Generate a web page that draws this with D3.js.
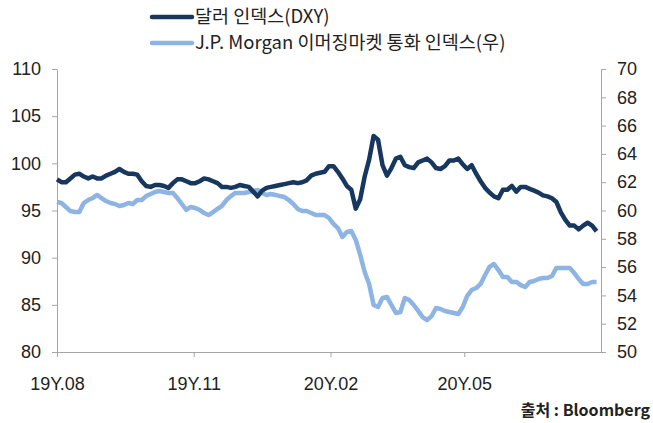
<!DOCTYPE html>
<html>
<head>
<meta charset="utf-8">
<script src="https://cdn.jsdelivr.net/npm/d3@7"></script>
<style>
  body { margin: 0; background: #fff; }
  svg { display: block; font-family: "Noto Sans CJK KR", "Noto Sans", sans-serif; }
  .axis path, .axis line { stroke: #a6a6a6; }
  .axis text { fill: #222; font-size: 18px; }
</style>
</head>
<body>
<svg id="chart" width="653" height="423"></svg>
<script>
// sampled every 3 days from 2019-08-01
var startDate = new Date(2019, 7, 1);
var dates = d3.range(122).map(function(i) { return d3.timeDay.offset(startDate, 3 * i); });

var dxy = [98.3, 98.0, 98.0, 98.4, 98.8, 98.9, 98.6, 98.4, 98.6, 98.4,
  98.4, 98.7, 98.9, 99.1, 99.4, 99.1, 98.9, 98.9, 98.8, 98.1,
  97.6, 97.5, 97.7, 97.7, 97.6, 97.4, 97.9, 98.3, 98.3, 98.1,
  97.9, 97.9, 98.1, 98.4, 98.3, 98.1, 97.9, 97.5, 97.5, 97.4,
  97.5, 97.7, 97.6, 97.5, 97.0, 96.5, 97.1, 97.4, 97.5, 97.6,
  97.7, 97.8, 97.9, 98.0, 97.9, 98.0, 98.2, 98.7, 98.9, 99.0,
  99.1, 99.7, 99.7, 99.1, 98.4, 97.6, 97.2, 95.2, 96.2, 98.6,
  100.4, 102.9, 102.5, 99.8, 98.7, 99.5, 100.5, 100.7, 99.8, 99.6,
  99.5, 100.1, 100.3, 100.5, 100.1, 99.5, 99.4, 99.7, 100.3, 100.3,
  100.5, 99.9, 99.4, 99.8, 98.9, 98.1, 97.4, 96.9, 96.5, 96.3,
  97.2, 97.2, 97.6, 97.0, 97.5, 97.5, 97.3, 97.1, 96.9, 96.6,
  96.5, 96.3, 95.9, 94.8, 94.0, 93.4, 93.4, 93.0, 93.4, 93.7,
  93.4, 92.8];

var emci = [60.60, 60.53, 60.25, 59.96, 59.89, 59.89, 60.53, 60.74, 60.88, 61.10,
  60.88, 60.67, 60.53, 60.46, 60.32, 60.39, 60.53, 60.46, 60.74, 60.74,
  61.02, 61.17, 61.31, 61.38, 61.31, 61.24, 61.24, 60.88, 60.46, 60.04,
  60.25, 60.18, 60.04, 59.82, 59.68, 59.89, 60.11, 60.32, 60.74, 61.02,
  61.24, 61.24, 61.24, 61.31, 61.38, 61.45, 61.24, 61.10, 61.17, 61.10,
  61.02, 60.95, 60.74, 60.46, 60.11, 59.96, 59.96, 59.82, 59.68, 59.68,
  59.68, 59.47, 59.05, 58.76, 58.13, 58.48, 58.55, 57.92, 56.86, 55.65,
  54.81, 53.32, 53.18, 53.82, 53.89, 53.32, 52.76, 52.83, 53.82, 53.67,
  53.32, 52.90, 52.47, 52.26, 52.54, 53.11, 53.04, 52.90, 52.83, 52.76,
  52.69, 53.18, 53.96, 54.38, 54.52, 54.81, 55.44, 56.01, 56.22, 55.79,
  55.30, 55.30, 54.95, 54.95, 54.73, 54.59, 54.95, 55.02, 55.16, 55.23,
  55.23, 55.37, 55.94, 55.94, 55.94, 55.94, 55.58, 55.16, 54.81, 54.81,
  54.95, 54.95];

var leftTicks = [80, 85, 90, 95, 100, 105, 110];
var rightTicks = [50, 52, 54, 56, 58, 60, 62, 64, 66, 68, 70];
var xTicks = [new Date(2019, 7, 1), new Date(2019, 10, 1), new Date(2020, 1, 1), new Date(2020, 4, 1)];
var seriesNames = ["달러 인덱스(DXY)", "J.P. Morgan 이머징마켓 통화 인덱스(우)"];
var colors = ["#17375e", "#8db4e2"];

(function() {
    var svg = d3.select("#chart"),
        plotLeft = 57, plotRight = 601, plotTop = 69, plotBottom = 352;

    var x = d3.scaleTime().domain([new Date(2019, 7, 1), new Date(2020, 7, 1)]).range([plotLeft, plotRight]);
    var yL = d3.scaleLinear().domain([80, 110]).range([plotBottom, plotTop]);
    var yR = d3.scaleLinear().domain([50, 70]).range([plotBottom, plotTop]);

    var fmt = d3.timeFormat("%yY.%m");

    svg.append("g")
        .attr("class", "axis")
        .attr("transform", "translate(" + plotLeft + ",0)")
        .call(d3.axisLeft(yL).tickValues(leftTicks).tickSize(5).tickPadding(11).tickSizeOuter(0));

    svg.append("g")
        .attr("class", "axis")
        .attr("transform", "translate(" + plotRight + ",0)")
        .call(d3.axisRight(yR).tickValues(rightTicks).tickSize(5).tickPadding(11).tickSizeOuter(0));

    svg.append("g")
        .attr("class", "axis")
        .attr("transform", "translate(0," + plotBottom + ")")
        .call(d3.axisBottom(x).tickValues(xTicks).tickFormat(fmt).tickSize(5).tickPadding(20).tickSizeOuter(0));

    var lineL = d3.line()
        .x(function(d, i) { return x(dates[i]); })
        .y(function(d) { return yL(d); });

    var lineR = d3.line()
        .x(function(d, i) { return x(dates[i]); })
        .y(function(d) { return yR(d); });

    svg.append("path")
        .datum(emci)
        .attr("d", lineR)
        .attr("fill", "none")
        .attr("stroke", colors[1])
        .attr("stroke-width", 4.5)
        .attr("stroke-linejoin", "round");

    svg.append("path")
        .datum(dxy)
        .attr("d", lineL)
        .attr("fill", "none")
        .attr("stroke", colors[0])
        .attr("stroke-width", 4.5)
        .attr("stroke-linejoin", "round");

    // legend
    var legend = svg.selectAll(".legend")
        .data(seriesNames)
        .enter().append("g")
        .attr("class", "legend")
        .attr("transform", function(d, i) { return "translate(150," + (17 + i * 26) + ")"; });

    legend.append("line")
        .attr("x1", 2).attr("x2", 42)
        .attr("stroke", function(d, i) { return colors[i]; })
        .attr("stroke-width", 4.5)
        .attr("stroke-linecap", "round");

    legend.append("text")
        .attr("x", 45)
        .attr("dy", "0.35em")
        .attr("font-size", 18.5)
        .attr("fill", "#222")
        .text(function(d) { return d; });

    svg.append("text")
        .attr("x", 650)
        .attr("y", 416)
        .attr("text-anchor", "end")
        .attr("font-size", 16)
        .attr("font-weight", "bold")
        .attr("fill", "#222")
        .text("출처 : Bloomberg");
})();
</script>
</body>
</html>
